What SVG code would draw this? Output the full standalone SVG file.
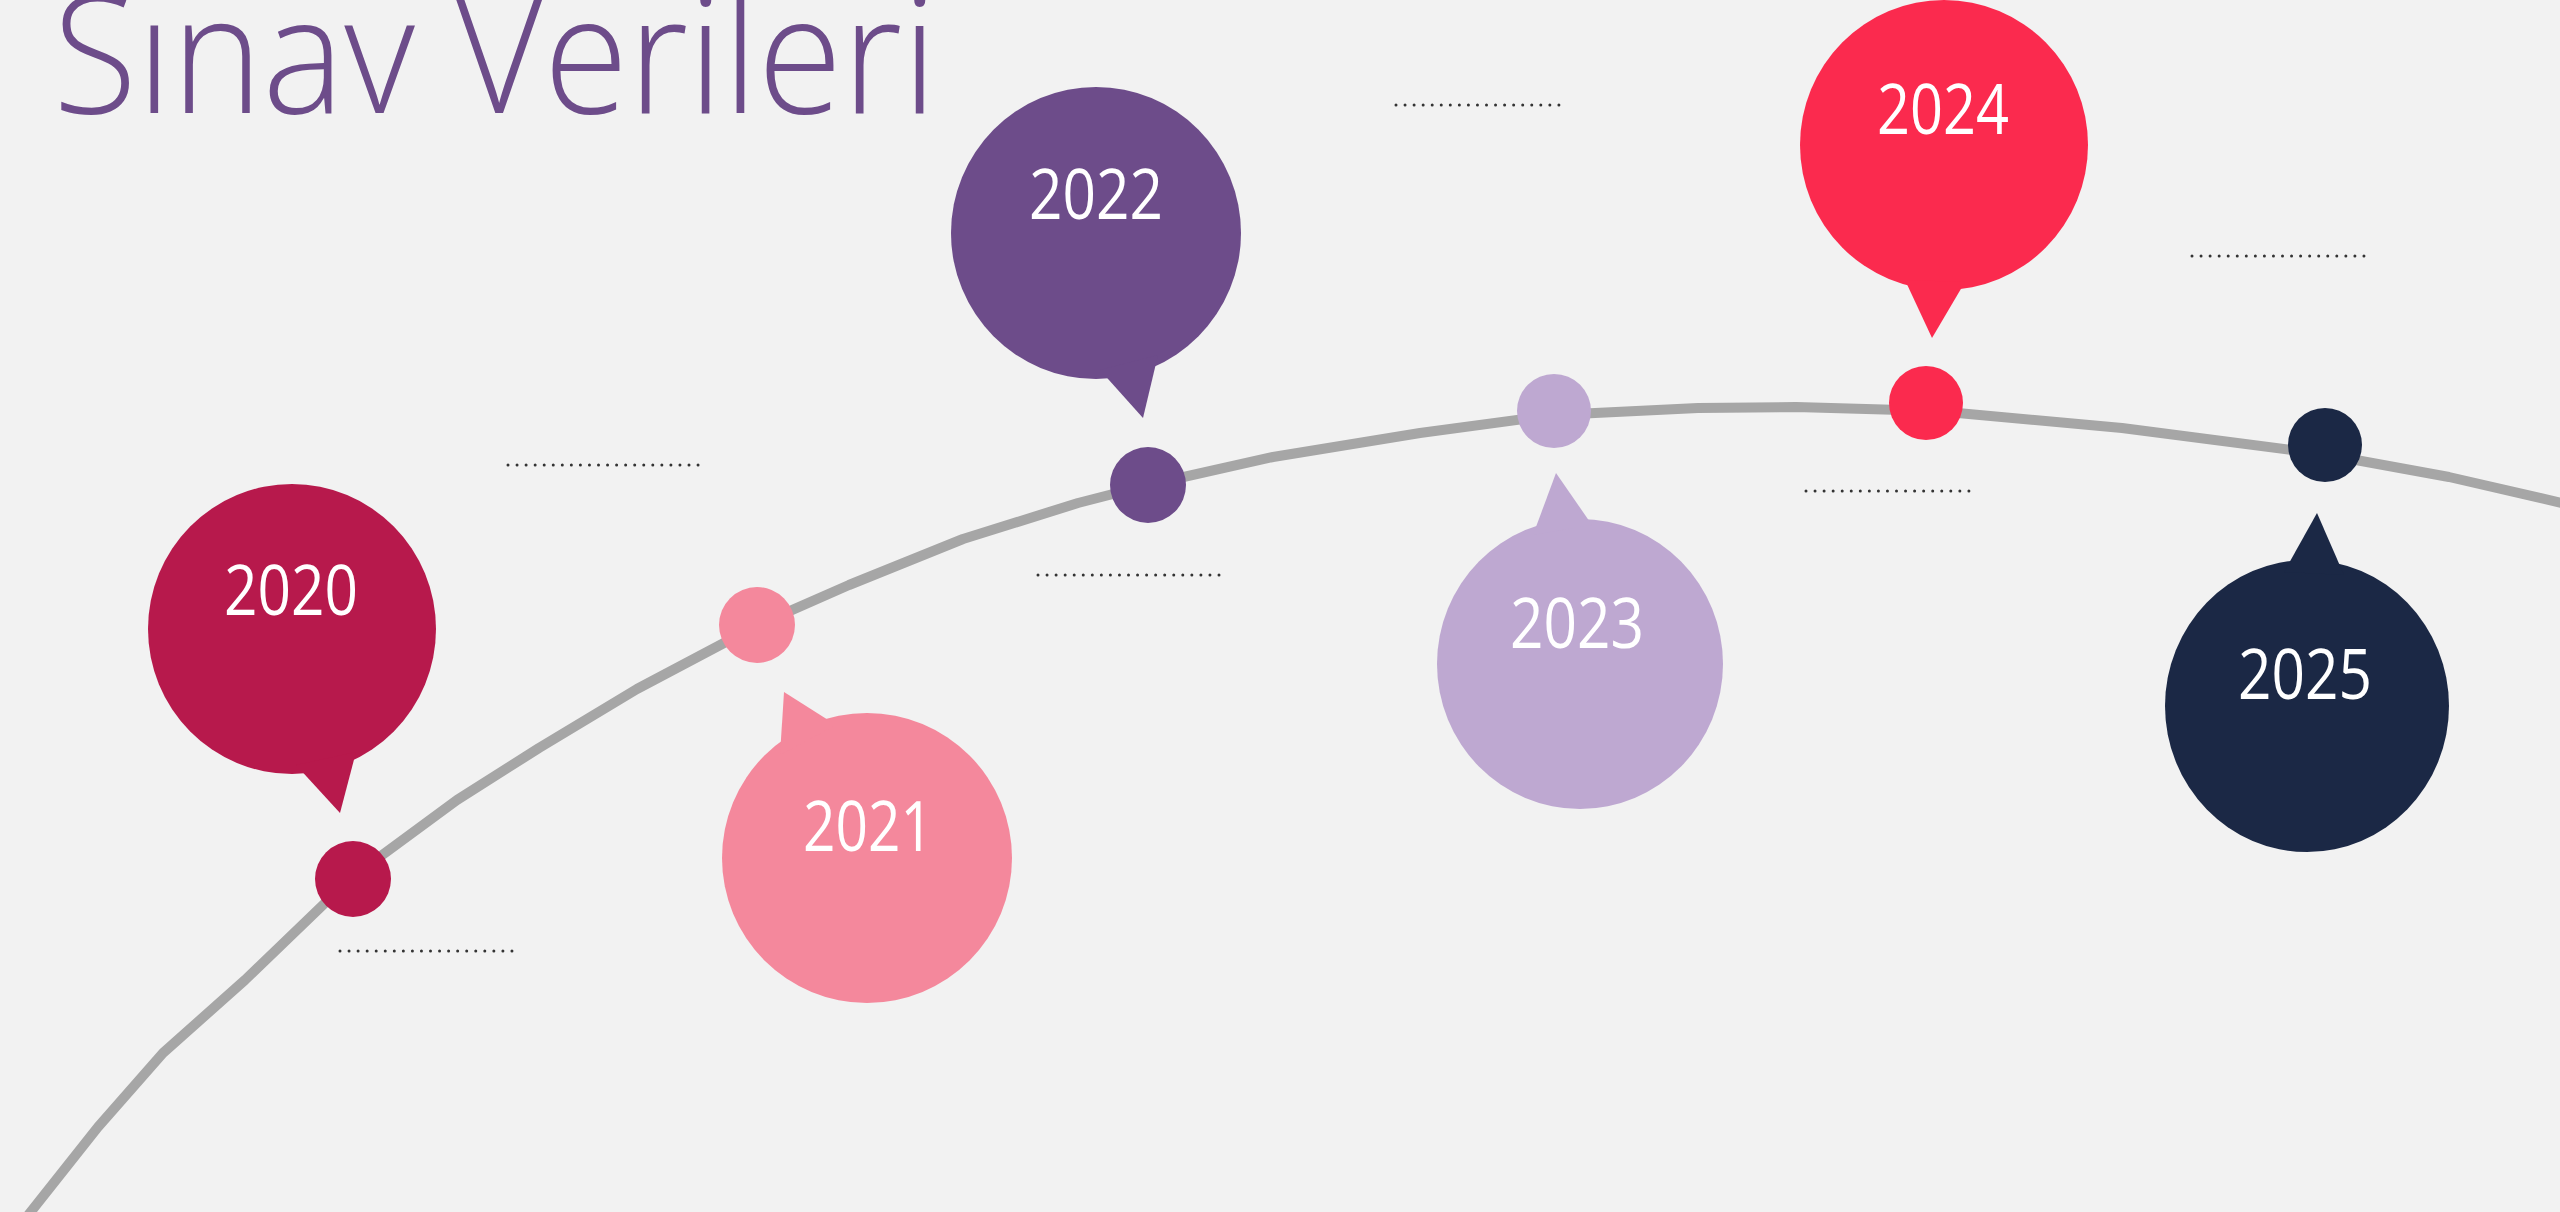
<svg xmlns="http://www.w3.org/2000/svg" width="2560" height="1212" viewBox="0 0 2560 1212">
<style>
.yr{font-family:"Open Sans","Liberation Sans",sans-serif;font-weight:400;font-size:70px;fill:#FFFFFF;text-anchor:middle}
.ttl{font-family:"Open Sans","Liberation Sans",sans-serif;font-weight:300;font-size:165px;fill:#6D4C8A}
.dots{stroke:#333333;stroke-width:3;stroke-linecap:round;stroke-dasharray:0 9.05;fill:none}
.curve{fill:none;stroke:#A6A6A6;stroke-width:10;stroke-linejoin:round;stroke-linecap:round}
</style>
<rect x="0" y="0" width="2560" height="1212" fill="#F2F2F2"/>
<text class="ttl" x="53" y="113" textLength="884" lengthAdjust="spacingAndGlyphs">Sınav Verileri</text>
<g id="connectors">
<path class="curve" d="M29,1214 L98,1127 L163,1053 L245,980 L351,878 L457,800 L539,748 L637,689 L758,625 L849,585 L963,539 L1078,503 L1148,485 L1273,457 L1420,433 L1554,415 L1698,408 L1796,407 L1936,411 L2122,428 L2323,454 L2449,477 L2562,503"/>
</g>
<g id="placeholders">
<line class="dots" x1="508" y1="465" x2="707" y2="465"/>
<line class="dots" x1="1038" y1="575" x2="1228" y2="575"/>
<line class="dots" x1="1396" y1="105" x2="1561" y2="105"/>
<line class="dots" x1="2192" y1="256" x2="2365" y2="256"/>
<line class="dots" x1="1806" y1="491" x2="1970" y2="491"/>
<line class="dots" x1="340" y1="951" x2="513" y2="951"/>
</g>
<g id="node-2020">
<ellipse cx="292" cy="629" rx="144" ry="145" fill="#B7194C"/>
<polygon points="296,765 340,813 356,752" fill="#B7194C"/>
<circle cx="353" cy="879" r="38" fill="#B7194C"/>
<text class="yr" x="291" y="615" textLength="134" lengthAdjust="spacingAndGlyphs">2020</text>
</g>
<g id="node-2021">
<ellipse cx="867" cy="858" rx="145" ry="145" fill="#F4889C"/>
<polygon points="780,755 784,692 836,725" fill="#F4889C"/>
<circle cx="757" cy="625" r="38" fill="#F4889C"/>
<text class="yr" x="868" y="851" textLength="130" lengthAdjust="spacingAndGlyphs">2021</text>
</g>
<g id="node-2022">
<ellipse cx="1096" cy="233" rx="145" ry="146" fill="#6D4C8A"/>
<polygon points="1100,370 1143,418 1158,355" fill="#6D4C8A"/>
<circle cx="1148" cy="485" r="38" fill="#6D4C8A"/>
<text class="yr" x="1096" y="219" textLength="134" lengthAdjust="spacingAndGlyphs">2022</text>
</g>
<g id="node-2023">
<ellipse cx="1580" cy="664" rx="143" ry="145" fill="#BEA8D1"/>
<polygon points="1533,535 1556,473 1592,525" fill="#BEA8D1"/>
<circle cx="1554" cy="411" r="37" fill="#BEA8D1"/>
<text class="yr" x="1577" y="648" textLength="134" lengthAdjust="spacingAndGlyphs">2023</text>
</g>
<g id="node-2024">
<ellipse cx="1944" cy="145" rx="144" ry="145" fill="#FB2A4E"/>
<polygon points="1905,280 1932,338 1965,282" fill="#FB2A4E"/>
<circle cx="1926" cy="403" r="37" fill="#FB2A4E"/>
<text class="yr" x="1943" y="134" textLength="132" lengthAdjust="spacingAndGlyphs">2024</text>
</g>
<g id="node-2025">
<ellipse cx="2307" cy="706" rx="142" ry="146" fill="#1B2845"/>
<polygon points="2284,572 2317,513 2344,575" fill="#1B2845"/>
<circle cx="2325" cy="445" r="37" fill="#1B2845"/>
<text class="yr" x="2305" y="699" textLength="134" lengthAdjust="spacingAndGlyphs">2025</text>
</g>
</svg>
